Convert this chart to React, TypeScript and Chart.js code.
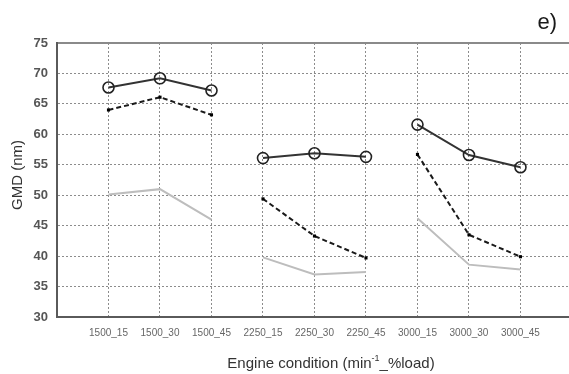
import React, { useEffect, useRef } from "react";
import { Chart, registerables } from "chart.js";

Chart.register(...registerables);

const categories = ["1500_15", "1500_30", "1500_45", "2250_15", "2250_30", "2250_45", "3000_15", "3000_30", "3000_45"];
const circleSeries = [67.7, 69.2, 67.2, 56.1, 56.9, 56.3, 61.6, 56.6, 54.6];
const dashedSeries = [64.0, 66.1, 63.2, 49.4, 43.3, 39.7, 56.7, 43.5, 39.9];
const graySeries = [50.1, 51.0, 46.0, 39.8, 37.0, 37.4, 46.2, 38.6, 37.8];
const yTicks = [30, 35, 40, 45, 50, 55, 60, 65, 70, 75];

const panelLabel = "e)";
const yTitle = "GMD (nm)";
const xTitleParts = ["Engine condition (min", "-1", "_%load)"];

const FONT = "'Liberation Sans', Arial, sans-serif";

const isBreak = (i: number) => i % 3 === 2;

const toPoints = (vals: number[]) => vals.map((v, i) => ({ x: i, y: v }));

const textPlugin = {
  id: "texts",
  afterDraw(chart: any) {
    const { ctx } = chart;
    ctx.save();
    ctx.fillStyle = "#1a1a1a";
    ctx.font = `22px ${FONT}`;
    ctx.textAlign = "right";
    ctx.textBaseline = "middle";
    ctx.fillText(panelLabel, 557, 23);
    ctx.save();
    ctx.translate(18, 175);
    ctx.rotate(-Math.PI / 2);
    ctx.font = `15px ${FONT}`;
    ctx.textAlign = "center";
    ctx.fillStyle = "#333";
    ctx.fillText(yTitle, 0, 0);
    ctx.restore();
    ctx.font = `15px ${FONT}`;
    const w0 = ctx.measureText(xTitleParts[0]).width;
    ctx.font = `9px ${FONT}`;
    const w1 = ctx.measureText(xTitleParts[1]).width;
    ctx.font = `15px ${FONT}`;
    const w2 = ctx.measureText(xTitleParts[2]).width;
    const total = w0 + w1 + w2;
    let x = 331 - total / 2;
    const y = 364;
    ctx.textAlign = "left";
    ctx.fillStyle = "#333";
    ctx.fillText(xTitleParts[0], x, y);
    x += w0;
    ctx.font = `9px ${FONT}`;
    ctx.fillText(xTitleParts[1], x, y - 5);
    x += w1;
    ctx.font = `15px ${FONT}`;
    ctx.fillText(xTitleParts[2], x, y);
    ctx.restore();
  },
};

export default function App() {
  const ref = useRef<HTMLCanvasElement | null>(null);

  useEffect(() => {
    if (!ref.current) return;
    const seg = (color: string) => ({
      borderColor: (c: any) => (isBreak(c.p0DataIndex) ? "rgba(0,0,0,0)" : color),
    });
    const chart = new Chart(ref.current, {
      type: "line",
      data: {
        datasets: [
          {
            label: "A",
            data: toPoints(circleSeries),
            borderColor: "#333",
            borderWidth: 2,
            pointStyle: "circle",
            pointRadius: 5.5,
            pointBorderWidth: 1.6,
            pointBorderColor: "#222",
            pointBackgroundColor: "rgba(0,0,0,0)",
            segment: seg("#333"),
            order: 1,
          },
          {
            label: "B",
            data: toPoints(dashedSeries),
            borderColor: "#1a1a1a",
            borderWidth: 2,
            borderDash: [5, 3],
            pointStyle: "rect",
            pointRadius: 2.2,
            pointBorderWidth: 0,
            pointBackgroundColor: "#000",
            segment: seg("#1a1a1a"),
            order: 2,
          },
          {
            label: "C",
            data: toPoints(graySeries),
            borderColor: "#bdbdbd",
            borderWidth: 2,
            pointRadius: 0,
            segment: seg("#bdbdbd"),
            order: 3,
          },
        ],
      } as any,
      options: {
        animation: false,
        responsive: false,
        layout: { padding: { top: 43, left: 0, right: 0, bottom: 0 } },
        plugins: { legend: { display: false }, tooltip: { enabled: false } },
        scales: {
          x: {
            type: "linear",
            min: -1,
            max: 8.96,
            afterBuildTicks: (s: any) => {
              s.ticks = categories.map((_, i) => ({ value: i }));
            },
            afterFit: (s: any) => {
              s.height = 57;
            },
            ticks: {
              callback: (v: any) => categories[v] ?? "",
              color: "#666",
              font: { family: FONT, size: 10 },
              padding: 10,
              maxRotation: 0,
              autoSkip: false,
            },
            grid: {
              color: "#8c8c8c",
              lineWidth: 1,
              drawTicks: false,
            },
            border: { display: true, color: "#5a5a5a", width: 2, dash: [2, 2] },
          },
          y: {
            type: "linear",
            min: 30,
            max: 75,
            afterBuildTicks: (s: any) => {
              s.ticks = yTicks.map((v) => ({ value: v }));
            },
            afterFit: (s: any) => {
              s.width = 57;
            },
            ticks: {
              color: "#555",
              font: { family: FONT, size: 13, weight: "bold" },
              padding: 9,
            },
            grid: {
              color: (c: any) => (c.tick && c.tick.value === 75 ? "#8a8a8a" : "#8c8c8c"),
              lineWidth: (c: any) => (c.tick && c.tick.value === 75 ? 2 : 1),
              drawTicks: false,
            },
            border: {
              display: true,
              color: "#5a5a5a",
              width: 2,
              dash: (c: any) => (c.tick && c.tick.value === 75 ? [] : [2, 2]),
            },
          },
        },
      } as any,
      plugins: [textPlugin],
    });
    return () => chart.destroy();
  }, []);

  return (
    <div style={{ position: "absolute", left: 0, top: 0, width: 569, height: 374, overflow: "hidden", background: "#fff" }}>
      <canvas ref={ref} width={577} height={374} style={{ display: "block" }} />
    </div>
  );
}
